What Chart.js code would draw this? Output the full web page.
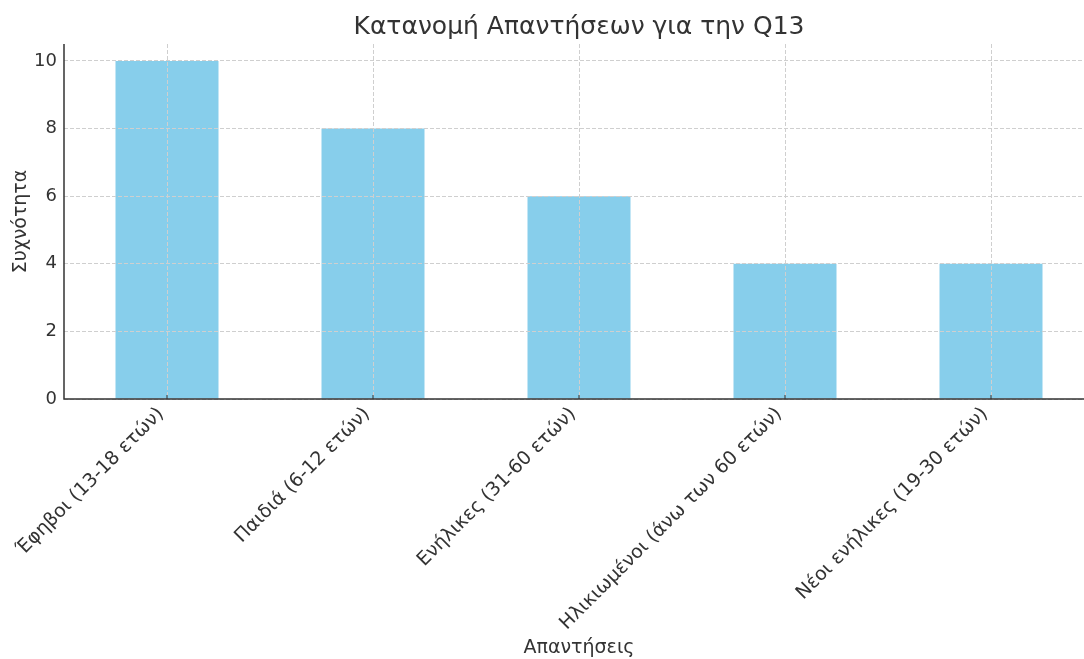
<!DOCTYPE html>
<html>
<head>
<meta charset="utf-8">
<script src="https://cdn.jsdelivr.net/npm/chart.js@4.4.0/dist/chart.umd.min.js"></script>
<style>
  body { margin: 0; background: #fff; overflow: hidden; }
  #wrap { width: 1094px; height: 659px; }
</style>
</head>
<body>
<div id="wrap"><canvas id="chart"></canvas></div>
<script>
// Chart data
const categories = [
    'Έφηβοι (13-18 ετών)',
    'Παιδιά (6-12 ετών)',
    'Ενήλικες (31-60 ετών)',
    'Ηλικιωμένοι (άνω των 60 ετών)',
    'Νέοι ενήλικες (19-30 ετών)'
];
const frequencies = [10, 8, 6, 4, 4];
const yTicks = [0, 2, 4, 6, 8, 10];

const textColor = '#333333';
const gridColor = '#cfcfcf';

// Redraw the grid above the bars (as in the reference)
const gridOnTop = {
    id: 'gridOnTop',
    afterDatasetsDraw(chart) {
        const area = chart.chartArea;
        chart.scales.x.drawGrid(area);
        chart.scales.y.drawGrid(area);
        const c = chart.ctx;
        c.save();
        c.setLineDash([]);
        c.strokeStyle = '#333333';
        c.lineWidth = 1.5;
        // axis lines and small inward ticks on x
        c.beginPath();
        c.moveTo(area.left, area.top);
        c.lineTo(area.left, area.bottom);
        c.lineTo(area.right, area.bottom);
        c.stroke();
        c.lineWidth = 1;
        const xs = chart.scales.x;
        categories.forEach((_, i) => {
            const px = xs.getPixelForValue(i);
            c.beginPath();
            c.moveTo(px, area.bottom);
            c.lineTo(px, area.bottom - 4);
            c.stroke();
        });
        c.restore();
    }
};

const ctx = document.getElementById('chart').getContext('2d');
new Chart(ctx, {
    type: 'bar',
    data: {
        labels: categories,
        datasets: [{
            data: frequencies,
            backgroundColor: '#87ceeb',
            borderWidth: 0,
            categoryPercentage: 1.0,
            barPercentage: 0.5
        }]
    },
    options: {
        responsive: true,
        maintainAspectRatio: false,
        animation: false,
        layout: { padding: { left: 0, right: 0, top: 0, bottom: 0 } },
        plugins: {
            legend: { display: false },
            tooltip: { enabled: false },
            title: {
                display: true,
                text: 'Κατανομή Απαντήσεων για την Q13',
                color: textColor,
                fullSize: false,
                font: { family: 'DejaVu Sans', size: 25, weight: 'normal' },
                padding: { top: 12, bottom: 2 }
            }
        },
        scales: {
            x: {
                offset: true,
                grid: {
                    offset: false,
                    color: gridColor,
                    lineWidth: 1,
                    drawTicks: false
                },
                border: { display: false, dash: [4, 2] },
                ticks: {
                    color: textColor,
                    font: { family: 'DejaVu Sans', size: 19 },
                    minRotation: 45,
                    maxRotation: 45,
                    autoSkip: false,
                    labelOffset: -6,
                    padding: 4
                },
                title: {
                    display: true,
                    text: 'Απαντήσεις',
                    color: textColor,
                    font: { family: 'DejaVu Sans', size: 19 },
                    padding: { top: 0, bottom: 0 }
                },
                afterFit(scale) {
                    scale.height = 260;
                    scale.paddingLeft = 0;
                    scale.paddingRight = 0;
                }
            },
            y: {
                min: 0,
                max: 10.5,
                grid: {
                    color: gridColor,
                    lineWidth: 1,
                    drawTicks: false
                },
                border: { display: false, dash: [4, 2] },
                ticks: {
                    color: textColor,
                    font: { family: 'DejaVu Sans', size: 18 },
                    stepSize: 2,
                    padding: 7
                },
                afterBuildTicks(scale) {
                    scale.ticks = yTicks.map(v => ({ value: v }));
                },
                title: {
                    display: true,
                    text: 'Συχνότητα',
                    color: textColor,
                    font: { family: 'DejaVu Sans', size: 19 },
                    padding: { top: 10, bottom: 0 }
                },
                afterFit(scale) {
                    scale.width = 64;
                }
            }
        }
    },
    plugins: [gridOnTop]
});
</script>
</body>
</html>
